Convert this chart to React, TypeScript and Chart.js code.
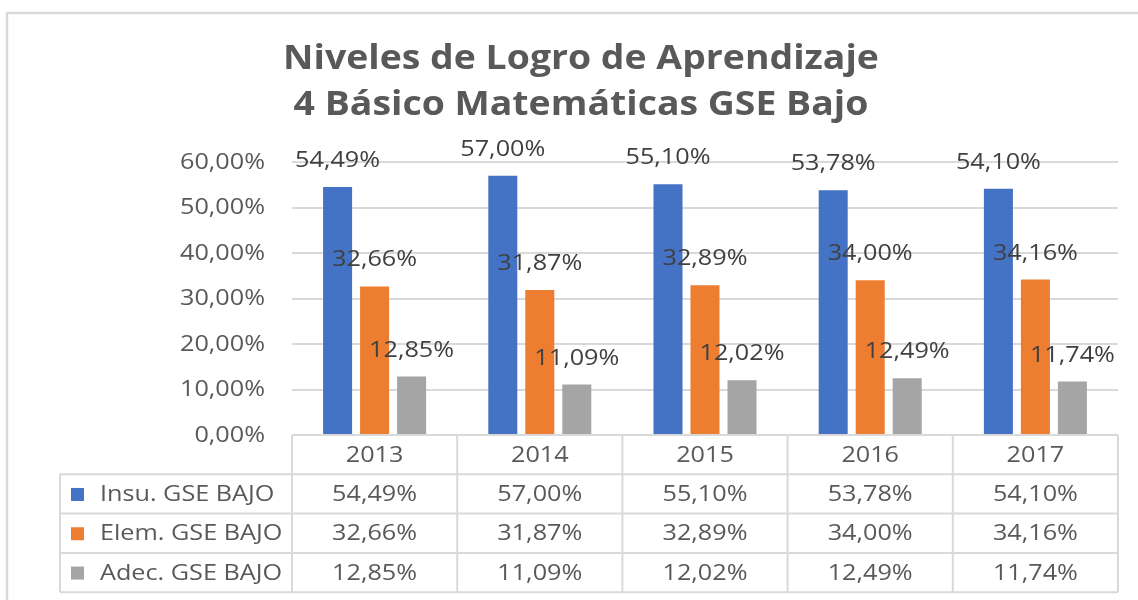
import React, { useEffect, useRef } from "react";
import { Chart, registerables } from "chart.js";

Chart.register(...registerables);

const titleLines = ["Niveles de Logro de Aprendizaje", "4 Básico Matemáticas GSE Bajo"];
const years = ["2013", "2014", "2015", "2016", "2017"];
const seriesNames = ["Insu. GSE BAJO", "Elem. GSE BAJO", "Adec. GSE BAJO"];
const insu = [54.49, 57.0, 55.1, 53.78, 54.1];
const elem = [32.66, 31.87, 32.89, 34.0, 34.16];
const adec = [12.85, 11.09, 12.02, 12.49, 11.74];
const colors = ["#4472C4", "#ED7D31", "#A5A5A5"];
const yTicks = [0, 10, 20, 30, 40, 50, 60];

const fmt = (v: number) => v.toFixed(2).replace(".", ",") + "%";

const BODY_FONT = "21px 'Open Sans'";
const SX = 1.2;
const GRID = "#d9d9d9";

function drawText(ctx: CanvasRenderingContext2D, text: string, x: number, y: number, align: CanvasTextAlign, sx: number) {
  ctx.save();
  ctx.translate(x, y);
  ctx.scale(sx, 1);
  ctx.textAlign = align;
  ctx.fillText(text, 0, 0);
  ctx.restore();
}

const decorPlugin = {
  id: "decor",
  beforeDraw(chart: any) {
    const ctx = chart.ctx as CanvasRenderingContext2D;
    ctx.save();
    ctx.fillStyle = "#ffffff";
    ctx.fillRect(0, 0, chart.width, chart.height);
    ctx.strokeStyle = GRID;
    ctx.lineWidth = 2.5;
    ctx.strokeRect(7, 13, 1300, 800);
    ctx.restore();
  },
  afterDraw(chart: any) {
    const ctx = chart.ctx as CanvasRenderingContext2D;
    const area = chart.chartArea;
    const yScale = chart.scales.y;
    const xScale = chart.scales.x;
    ctx.save();

    // Title
    ctx.fillStyle = "#595959";
    ctx.font = "bold 34px 'Open Sans'";
    ctx.textBaseline = "alphabetic";
    drawText(ctx, titleLines[0], 581, 69, "center", 1.1);
    drawText(ctx, titleLines[1], 581, 115, "center", 1.1);

    // Y tick labels
    ctx.font = BODY_FONT;
    ctx.textBaseline = "middle";
    ctx.fillStyle = "#595959";
    yTicks.forEach((v) => {
      drawText(ctx, fmt(v), 265, yScale.getPixelForValue(v) + 1, "right", SX);
    });

    // Data labels
    ctx.fillStyle = "#404040";
    chart.data.datasets.forEach((ds: any, di: number) => {
      const meta = chart.getDatasetMeta(di);
      meta.data.forEach((bar: any, i: number) => {
        drawText(ctx, fmt(ds.data[i]), bar.x, bar.y - 26, "center", SX);
      });
    });

    // Data table
    const left = 60;
    const x0 = area.left;
    const x1 = area.right;
    const top = area.bottom;
    const rowH = 39.3;
    const rows = [top, top + rowH, top + 2 * rowH, top + 3 * rowH, top + 4 * rowH];
    const n = years.length;
    const cw = (x1 - x0) / n;

    ctx.strokeStyle = GRID;
    ctx.lineWidth = 2;
    ctx.beginPath();
    ctx.moveTo(x0, rows[0]);
    ctx.lineTo(x1, rows[0]);
    for (let r = 1; r < rows.length; r++) {
      ctx.moveTo(left, rows[r]);
      ctx.lineTo(x1, rows[r]);
    }
    ctx.moveTo(left, rows[1]);
    ctx.lineTo(left, rows[4]);
    for (let k = 0; k <= n; k++) {
      const x = x0 + k * cw;
      ctx.moveTo(x, rows[0]);
      ctx.lineTo(x, rows[4]);
    }
    ctx.stroke();

    ctx.fillStyle = "#595959";
    ctx.font = BODY_FONT;
    ctx.textBaseline = "middle";
    years.forEach((y, i) => {
      const cx = xScale.getPixelForValue(i);
      drawText(ctx, y, cx, (rows[0] + rows[1]) / 2 + 1, "center", SX);
    });
    const series = [insu, elem, adec];
    series.forEach((vals, r) => {
      const cy = (rows[r + 1] + rows[r + 2]) / 2 + 1;
      ctx.fillStyle = colors[r];
      ctx.fillRect(71, cy - 7, 13, 13);
      ctx.fillStyle = "#595959";
      drawText(ctx, seriesNames[r], 100, cy, "left", SX);
      vals.forEach((v, i) => {
        const cx = xScale.getPixelForValue(i);
        drawText(ctx, fmt(v), cx, cy, "center", SX);
      });
    });

    ctx.restore();
  },
};

export default function App() {
  const ref = useRef<HTMLCanvasElement | null>(null);
  useEffect(() => {
    if (!ref.current) return;
    const chart = new Chart(ref.current, {
      type: "bar",
      data: {
        labels: years,
        datasets: [
          { label: seriesNames[0], data: insu, backgroundColor: colors[0] },
          { label: seriesNames[1], data: elem, backgroundColor: colors[1] },
          { label: seriesNames[2], data: adec, backgroundColor: colors[2] },
        ],
      },
      options: {
        animation: false,
        responsive: false,
        maintainAspectRatio: false,
        layout: { padding: { left: 292, right: 20, top: 162, bottom: 165 } },
        datasets: { bar: { categoryPercentage: 0.672, barPercentage: 0.784 } },
        plugins: { legend: { display: false }, title: { display: false }, tooltip: { enabled: false } },
        scales: {
          x: { display: false },
          y: {
            min: 0,
            max: 60,
            ticks: { display: false, stepSize: 10 },
            grid: { color: GRID, lineWidth: 2, drawTicks: false },
            border: { display: false },
            afterFit: (s: any) => {
              s.width = 0;
            },
          },
        },
      },
      plugins: [decorPlugin],
    });
    return () => chart.destroy();
  }, []);
  return (
    <div style={{ position: "absolute", left: 0, top: 0, width: 1138, height: 600 }}>
      <canvas ref={ref} width={1138} height={600} style={{ width: 1138, height: 600 }} />
    </div>
  );
}
